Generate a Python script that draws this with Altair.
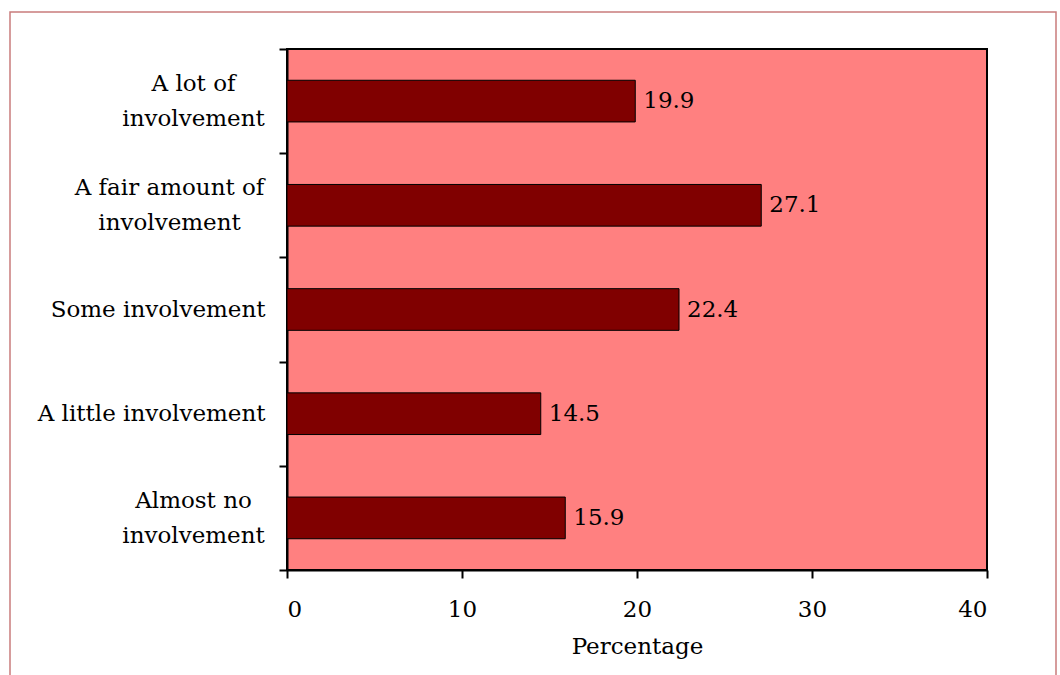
import altair as alt
import pandas as pd

categories = [
    "A lot of\ninvolvement",
    "A fair amount of\ninvolvement",
    "Some involvement",
    "A little involvement",
    "Almost no\ninvolvement",
]
values = [19.9, 27.1, 22.4, 14.5, 15.9]
x_ticks = [0, 10, 20, 30, 40]

df = pd.DataFrame({"category": categories, "value": values})

FONT = "DejaVu Serif"

MULTI = "isString(datum.value) && indexof(datum.value, '\\n') >= 0"
LONGFIRST = MULTI + " && length(split(datum.value, '\\n')[0]) > 11"

y_enc = alt.Y(
    "category:N",
    sort=categories,
    scale=alt.Scale(paddingInner=0, paddingOuter=0),
    axis=alt.Axis(
        title=None,
        labelExpr="isString(datum.value) ? split(datum.value, '\\n') : ''",
        labelFont=FONT,
        labelFontSize=23,
        labelColor="black",
        labelLineHeight=35,
        labelLimit=400,
        labelAlign={"condition": {"test": MULTI, "value": "center"}, "value": "right"},
        labelPadding={
            "condition": [
                {"test": LONGFIRST, "value": 110},
                {"test": MULTI, "value": 86},
            ],
            "value": 14,
        },
        labelOffset={"condition": {"test": MULTI, "value": -17.5}, "value": 0},
        tickBand="extent",
        tickSize=8,
        tickWidth=2,
        tickColor="black",
        domainColor="black",
        domainWidth=2,
    ),
)
x_enc = alt.X(
    "value:Q",
    scale=alt.Scale(domain=[0, 40], nice=False),
    axis=alt.Axis(
        title="Percentage",
        values=x_ticks,
        grid=False,
        labelFont=FONT,
        labelFontSize=23,
        labelColor="black",
        labelPadding=20,
        titleFont=FONT,
        titleFontSize=23,
        titleFontWeight="normal",
        titleColor="black",
        titlePadding=14,
        tickSize=8,
        tickWidth=2,
        tickColor="black",
        domainColor="black",
        domainWidth=2,
    ),
)

frame = alt.Chart(alt.Data(values=[{}])).mark_rect(
    fill=None, stroke="#C97C7C", strokeWidth=1.5
).encode(
    x=alt.value(10 - 287),
    x2=alt.value(1056 - 287),
    y=alt.value(12 - 49),
    y2=alt.value(700),
)

bars = alt.Chart(df).mark_bar(
    color="#800000", stroke="black", strokeWidth=1, height=alt.RelativeBandSize(0.4)
).encode(x=x_enc, y=y_enc)

labels = alt.Chart(df).mark_text(
    align="left", baseline="middle", dx=8, font=FONT, fontSize=23, color="black"
).encode(
    x=alt.X("value:Q"),
    y=alt.Y("category:N", sort=categories),
    text=alt.Text("value:Q", format=".1f"),
)

chart = alt.layer(frame, bars, labels).properties(
    width=700,
    height=521,
    padding={"left": 287, "top": 49, "right": 73, "bottom": 105},
    autosize=alt.AutoSizeParams(type="none"),
    background="white",
).configure_view(fill="#FF8080", stroke="black", strokeWidth=2)

chart.save("out.html", embed_options={"renderer": "svg", "actions": False})
